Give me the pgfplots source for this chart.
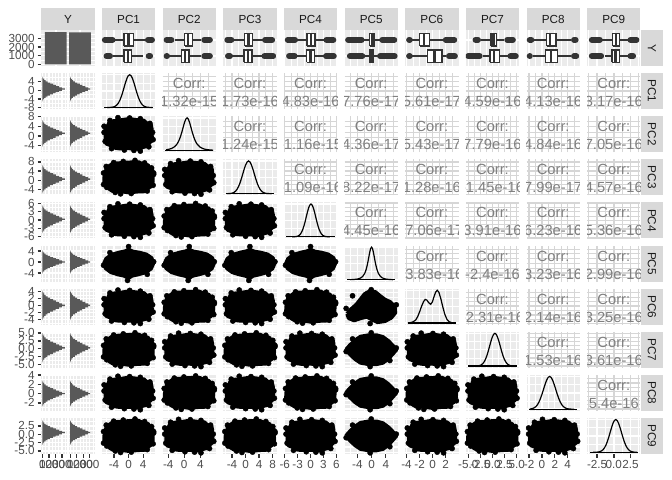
\documentclass[border=0pt]{standalone}
\usepackage{pgfplots}
\pgfplotsset{compat=1.18}
\usepackage{pgfplotstable}
\usepackage{fontspec}
\setmainfont{Liberation Sans}

\definecolor{panelbg}{HTML}{EBEBEB}
\definecolor{stripbg}{HTML}{D9D9D9}
\definecolor{stripc}{HTML}{1A1A1A}
\definecolor{ticklab}{HTML}{4D4D4D}
\definecolor{tickcol}{HTML}{333333}
\definecolor{histc}{HTML}{595959}
\definecolor{corrc}{HTML}{808080}
\definecolor{corgrid}{HTML}{D6D6D6}

\newcommand\tickfont{\fontsize{11.7bp}{13bp}\selectfont}
\newcommand\corfont{\fontsize{14.7bp}{17bp}\selectfont}

% ---------- templates ----------
\pgfplotstableread{
z f
-4.00 0.0003
-3.75 0.0009
-3.50 0.0022
-3.25 0.0051
-3.00 0.0111
-2.75 0.0228
-2.50 0.0439
-2.25 0.0796
-2.00 0.1353
-1.75 0.2163
-1.50 0.3247
-1.25 0.4578
-1.00 0.6065
-0.75 0.7548
-0.50 0.8825
-0.25 0.9692
0.00 1.0000
0.25 0.9692
0.50 0.8825
0.75 0.7548
1.00 0.6065
1.25 0.4578
1.50 0.3247
1.75 0.2163
2.00 0.1353
2.25 0.0796
2.50 0.0439
2.75 0.0228
3.00 0.0111
3.25 0.0051
3.50 0.0022
3.75 0.0009
4.00 0.0003
}\normT
\pgfplotstableread{
z f
-6.00 0.0059
-5.00 0.0115
-4.00 0.0249
-3.50 0.0387
-3.00 0.0625
-2.50 0.1052
-2.00 0.1837
-1.75 0.2449
-1.50 0.3265
-1.25 0.4324
-1.00 0.5625
-0.75 0.7090
-0.50 0.8520
-0.25 0.9597
0.00 1.0000
0.25 0.9597
0.50 0.8520
0.75 0.7090
1.00 0.5625
1.25 0.4324
1.50 0.3265
1.75 0.2449
2.00 0.1837
2.50 0.1052
3.00 0.0625
3.50 0.0387
4.00 0.0249
5.00 0.0115
6.00 0.0059
}\tT
\pgfplotstableread{
z f
-3.80 0.000
-3.40 0.010
-3.00 0.035
-2.60 0.090
-2.30 0.190
-2.00 0.340
-1.70 0.510
-1.40 0.650
-1.15 0.720
-0.90 0.700
-0.60 0.620
-0.30 0.570
-0.05 0.640
0.20 0.800
0.45 0.940
0.70 1.000
0.95 0.940
1.25 0.740
1.55 0.490
1.85 0.270
2.15 0.120
2.50 0.040
2.90 0.010
3.55 0.000
}\sixT
\pgfplotstableread{
z n
-4.0 5
-3.6 12
-3.2 26
-2.8 48
-2.4 78
-2.0 115
-1.6 160
-1.2 205
-0.8 252
-0.4 300
0.0 345
0.4 305
0.8 256
1.2 208
1.6 163
2.0 118
2.4 80
2.8 50
3.2 27
3.6 13
4.0 5
}\histA
\pgfplotstableread{
z n
-4.0 4
-3.6 10
-3.2 22
-2.8 42
-2.4 70
-2.0 104
-1.6 144
-1.2 184
-0.8 228
-0.4 270
0.0 308
0.4 274
0.8 232
1.2 188
1.6 148
2.0 106
2.4 72
2.8 44
3.2 24
3.6 11
4.0 4
}\histB
\pgfplotstableread{
u v
0.950 0.500
0.953 0.671
0.896 0.751
0.864 0.832
0.772 0.857
0.690 0.917
0.500 0.910
0.323 0.889
0.208 0.883
0.150 0.819
0.083 0.763
0.078 0.660
0.045 0.500
0.043 0.327
0.104 0.249
0.143 0.174
0.208 0.117
0.326 0.119
0.500 0.082
0.679 0.107
0.795 0.113
0.847 0.184
0.909 0.242
0.948 0.330
0.950 0.500
}\blobA
\pgfplotstableread{
u v
0.931 0.500
0.930 0.662
0.916 0.762
0.835 0.805
0.786 0.874
0.677 0.887
0.500 0.920
0.327 0.879
0.223 0.863
0.140 0.827
0.116 0.742
0.062 0.666
0.069 0.500
0.070 0.338
0.084 0.238
0.165 0.195
0.217 0.130
0.321 0.109
0.500 0.112
0.686 0.094
0.772 0.144
0.856 0.176
0.884 0.258
0.943 0.333
0.931 0.500
}\blobB
\pgfplotstableread{
u v
0.03 0.50
0.10 0.62
0.20 0.76
0.30 0.86
0.45 0.90
0.60 0.90
0.72 0.85
0.82 0.74
0.90 0.62
0.97 0.50
0.90 0.38
0.82 0.25
0.72 0.14
0.60 0.10
0.45 0.10
0.30 0.14
0.20 0.24
0.10 0.38
0.03 0.50
}\blobD
\pgfplotstableread{
u v
0.04 0.50
0.08 0.63
0.18 0.74
0.32 0.80
0.44 0.84
0.50 0.88
0.58 0.83
0.70 0.80
0.83 0.75
0.93 0.65
0.96 0.50
0.92 0.36
0.82 0.26
0.68 0.20
0.56 0.16
0.50 0.10
0.42 0.16
0.30 0.20
0.17 0.26
0.07 0.37
0.04 0.50
}\blobV
\pgfplotstableread{
u v
0.05 0.30
0.12 0.42
0.22 0.55
0.30 0.70
0.38 0.85
0.48 0.93
0.58 0.90
0.66 0.80
0.75 0.70
0.86 0.62
0.94 0.50
0.95 0.33
0.88 0.20
0.76 0.10
0.62 0.07
0.52 0.14
0.42 0.22
0.30 0.18
0.18 0.12
0.08 0.18
0.05 0.30
}\blobS
\pgfplotstableread{
u v
0.03 0.30
0.97 0.62
0.62 0.97
0.35 0.04
0.97 0.58
0.93 0.76
0.80 0.90
0.40 0.94
0.22 0.91
0.08 0.80
0.03 0.62
0.09 0.22
0.25 0.08
0.55 0.05
0.85 0.12
0.96 0.28
}\outA
\pgfplotstableread{
u v
0.04 0.72
0.96 0.35
0.30 0.96
0.72 0.03
0.95 0.55
0.90 0.80
0.72 0.93
0.52 0.95
0.15 0.88
0.04 0.55
0.06 0.30
0.18 0.10
0.42 0.06
0.60 0.05
0.88 0.15
}\outB
\pgfplotstableread{
u v
0.03 0.45
0.97 0.55
0.50 0.97
0.48 0.03
0.15 0.80
0.85 0.20
}\outC

% ---------- per-variable definitions ----------
\newcommand\defcol[9]{%
  \expandafter\def\csname cmin#1\endcsname{#2}%
  \expandafter\def\csname cmax#1\endcsname{#3}%
  \expandafter\def\csname ctk#1\endcsname{#4}%
  \expandafter\def\csname cmt#1\endcsname{#5}%
  \expandafter\def\csname clab#1\endcsname{#6}%
  \expandafter\def\csname dmu#1\endcsname{#7}%
  \expandafter\def\csname dsd#1\endcsname{#8}%
  \expandafter\def\csname dtn#1\endcsname{#9}}
\newcommand\defrow[8]{%
  \expandafter\def\csname rmin#1\endcsname{#2}%
  \expandafter\def\csname rmax#1\endcsname{#3}%
  \expandafter\def\csname rtk#1\endcsname{#4}%
  \expandafter\def\csname rmt#1\endcsname{#5}%
  \expandafter\def\csname rlab#1\endcsname{#6}%
  \expandafter\def\csname hmu#1\endcsname{#7}%
  \expandafter\def\csname hsd#1\endcsname{#8}}
\newcommand\defbox[2]{\expandafter\def\csname bxs#1\endcsname{#2}}
\newcommand\defcv[3]{\expandafter\def\csname cv#1x#2\endcsname{#3}}

\defcol{1}{-7.3}{7.3}{-4,0,4}{-6,-2,2,6}{-4,0,4}{0.3}{1.55}{normT}
\defcol{2}{-5.4}{7.9}{-4,0,4}{-2,2,6}{-4,0,4}{0.7}{1.3}{tT}
\defcol{3}{-6.6}{9.2}{-4,0,4,8}{-6,-2,2,6}{-4,0,4,8}{0.9}{1.7}{normT}
\defcol{4}{-6.2}{6.2}{-6,-3,0,3,6}{-4.5,-1.5,1.5,4.5}{-6,-3,0,3,6}{0.1}{1.1}{normT}
\defcol{5}{-7.6}{7.4}{-4,0,4}{-6,-2,2,6}{-4,0,4}{0}{1.0}{tT}
\defcol{6}{-4.2}{3.95}{-4,-2,0,2}{-3,-1,1,3}{-4,-2,0,2}{0}{1}{sixT}
\defcol{7}{-5.5}{5.5}{-5,-2.5,0,2.5,5}{-3.75,-1.25,1.25,3.75}{-5.0,-2.5,0.0,2.5,5.0}{0.5}{1.1}{normT}
\defcol{8}{-2.4}{5.9}{-2,0,2,4}{-1,1,3,5}{-2,0,2,4}{1.2}{0.95}{normT}
\defcol{9}{-4}{4}{-2.5,0,2.5}{-3.75,-1.25,1.25,3.75}{-2.5,0.0,2.5}{0.3}{0.85}{normT}

\defrow{1}{-8.6}{7.9}{-8,-4,0,4}{-6,-2,2,6}{-8,-4,0,4}{0.6}{1.35}
\defrow{2}{-6.7}{8.2}{-4,0,4,8}{-6,-2,2,6}{-4,0,4,8}{1.1}{1.3}
\defrow{3}{-6.5}{9.1}{-4,0,4,8}{-6,-2,2,6}{-4,0,4,8}{0.5}{1.46}
\defrow{4}{-6.6}{6.3}{-6,-3,0,3,6}{-4.5,-1.5,1.5,4.5}{-6,-3,0,3,6}{0.25}{1.19}
\defrow{5}{-7.1}{6.0}{-4,0,4}{-6,-2,2}{-4,0,4}{0}{1.0}
\defrow{6}{-5.5}{4.8}{-4,-2,0,2,4}{-5,-3,-1,1,3}{-4,-2,0,2,4}{0}{1.0}
\defrow{7}{-6.0}{5.4}{-5,-2.5,0,2.5,5}{-3.75,-1.25,1.25,3.75}{-5.0,-2.5,0.0,2.5,5.0}{0.3}{1.1}
\defrow{8}{-3.7}{4.05}{-2,0,2,4}{-3,-1,1,3}{-2,0,2,4}{0}{0.66}
\defrow{9}{-5.9}{4.9}{-5,-2.5,0,2.5}{-3.75,-1.25,1.25,3.75}{-5.0,-2.5,0.0,2.5}{0.5}{0.88}

% boxplot pieces: \bx{pos}{lo}{hi}{lw}{q1}{med}{q3}{uw}, \ol{pos}{a}{b}
\newcommand\bx[8]{%
  \addplot[tickcol,line width=1.4bp] coordinates {(#4,#1) (#5,#1)};
  \addplot[tickcol,line width=1.4bp] coordinates {(#7,#1) (#8,#1)};
  \addplot[draw=tickcol,fill=white,line width=1.4bp] coordinates {(#5,#2) (#7,#2) (#7,#3) (#5,#3) (#5,#2)};
  \addplot[tickcol,line width=2.4bp] coordinates {(#6,#2) (#6,#3)};}
\newcommand\ol[3]{\addplot[tickcol,line width=6bp,line cap=round] coordinates {(#2,#1) (#3,#1)};}

\defbox{1}{\ol{2}{-6.5}{-4.4}\bx{2}{1.625}{2.375}{-3.75}{-1.29}{0}{1.26}{4.9}\ol{2}{5.3}{6.4}%
  \ol{1}{-6.05}{-5.1}\bx{1}{0.625}{1.375}{-4.2}{-1.29}{-0.1}{0.82}{4.0}\ol{1}{5.5}{5.9}}
\defbox{2}{\ol{2}{-4.4}{-3.2}\bx{2}{1.625}{2.375}{-2.4}{0.08}{1.0}{2.0}{4.25}\ol{2}{5.0}{6.4}%
  \ol{1}{-4.4}{-4.3}\bx{1}{0.625}{1.375}{-3.7}{-0.75}{0.15}{1.15}{4.25}\ol{1}{5.0}{6.4}}
\defbox{3}{\ol{2}{-5.4}{-4.2}\bx{2}{1.625}{2.375}{-3.6}{-0.3}{0.9}{2.1}{5.2}\ol{2}{5.8}{7.9}%
  \ol{1}{-5.2}{-4.6}\bx{1}{0.625}{1.375}{-3.9}{-0.5}{0.7}{1.9}{5.0}\ol{1}{5.6}{8.2}}
\defbox{4}{\ol{2}{-5.3}{-3.6}\bx{2}{1.625}{2.375}{-3.0}{-0.8}{0.1}{1.0}{3.2}\ol{2}{3.7}{5.3}%
  \ol{1}{-5.0}{-3.7}\bx{1}{0.625}{1.375}{-3.2}{-0.9}{0.0}{0.9}{3.1}\ol{1}{3.6}{5.4}}
\defbox{5}{\ol{2}{-6.6}{-2.8}\bx{2}{1.625}{2.375}{-2.3}{-0.5}{0.1}{0.7}{2.5}\ol{2}{3.0}{6.4}%
  \ol{1}{-6.1}{-2.6}\bx{1}{0.625}{1.375}{-2.0}{-0.6}{-0.1}{0.4}{1.9}\ol{1}{2.4}{6.5}}
\defbox{6}{\ol{2}{-3.6}{-3.5}\bx{2}{1.625}{2.375}{-3.3}{-2.0}{-1.3}{-0.5}{1.6}\ol{2}{2.0}{3.3}%
  \ol{1}{-3.6}{-3.5}\bx{1}{0.625}{1.375}{-3.2}{-0.8}{0.3}{1.4}{2.1}\ol{1}{2.5}{3.4}}
\defbox{7}{\ol{2}{-3.5}{-3.0}\bx{2}{1.625}{2.375}{-2.37}{-0.31}{0.23}{0.85}{2.43}\ol{2}{3.05}{4.2}%
  \ol{1}{-5.0}{-2.65}\bx{1}{0.625}{1.375}{-2.0}{-0.52}{0.37}{1.4}{3.1}\ol{1}{3.7}{4.8}}
\defbox{8}{\ol{2}{-1.9}{-1.65}\bx{2}{1.625}{2.375}{-1.2}{0.73}{1.3}{2.2}{4.5}\ol{2}{5.0}{5.25}%
  \ol{1}{-1.9}{-1.88}\bx{1}{0.625}{1.375}{-1.45}{0.53}{1.4}{2.45}{4.5}\ol{1}{5.0}{5.35}}
\defbox{9}{\ol{2}{-3.3}{-2.1}\bx{2}{1.625}{2.375}{-1.7}{-0.18}{0.33}{0.83}{2.07}\ol{2}{2.5}{3.4}%
  \ol{1}{-3.3}{-1.9}\bx{1}{0.625}{1.375}{-1.38}{-0.27}{0.23}{0.83}{2.07}\ol{1}{2.5}{2.9}}

\defcv{1}{2}{1.32e-15}\defcv{1}{3}{1.73e-16}\defcv{1}{4}{4.83e-16}\defcv{1}{5}{7.76e-17}
\defcv{1}{6}{5.61e-17}\defcv{1}{7}{4.59e-16}\defcv{1}{8}{4.13e-16}\defcv{1}{9}{3.17e-16}
\defcv{2}{3}{1.24e-15}\defcv{2}{4}{-1.16e-15}\defcv{2}{5}{4.36e-17}\defcv{2}{6}{5.43e-17}
\defcv{2}{7}{7.79e-16}\defcv{2}{8}{4.84e-16}\defcv{2}{9}{7.05e-16}
\defcv{3}{4}{-1.09e-16}\defcv{3}{5}{8.22e-17}\defcv{3}{6}{1.28e-16}\defcv{3}{7}{-1.45e-16}
\defcv{3}{8}{7.99e-17}\defcv{3}{9}{4.57e-16}
\defcv{4}{5}{4.45e-16}\defcv{4}{6}{-7.06e-17}\defcv{4}{7}{3.91e-16}\defcv{4}{8}{6.23e-16}\defcv{4}{9}{5.36e-16}
\defcv{5}{6}{-3.83e-16}\defcv{5}{7}{-2.4e-16}\defcv{5}{8}{3.23e-16}\defcv{5}{9}{2.99e-16}
\defcv{6}{7}{-2.31e-16}\defcv{6}{8}{2.14e-16}\defcv{6}{9}{3.25e-16}
\defcv{7}{8}{1.53e-16}\defcv{7}{9}{3.61e-16}
\defcv{8}{9}{5.4e-16}

% ---------- setters ----------
\newcommand\setcol[1]{%
  \edef\xa{\csname cmin#1\endcsname}\edef\xb{\csname cmax#1\endcsname}%
  \edef\xt{\csname ctk#1\endcsname}\edef\xm{\csname cmt#1\endcsname}%
  \edef\xl{\csname clab#1\endcsname}}
\newcommand\setinrow[1]{%
  \edef\ya{\csname cmin#1\endcsname}\edef\yb{\csname cmax#1\endcsname}%
  \edef\yt{\csname ctk#1\endcsname}\edef\ym{\csname cmt#1\endcsname}%
  \def\yl{}}
\newcommand\setleftrow[1]{%
  \edef\ya{\csname rmin#1\endcsname}\edef\yb{\csname rmax#1\endcsname}%
  \edef\yt{\csname rtk#1\endcsname}\edef\ym{\csname rmt#1\endcsname}%
  \edef\yl{\csname rlab#1\endcsname}%
  \edef\hmu{\csname hmu#1\endcsname}\edef\hsd{\csname hsd#1\endcsname}}
\newif\ifbot \newif\ifleft
\newcommand\buildcur{%
  \ifbot\edef\xlk{xticklabels={\xl},xtick style={draw=tickcol,line width=1.4bp},}\else\def\xlk{}\fi
  \ifleft\edef\ylk{yticklabels={\yl},ytick style={draw=tickcol,line width=1.4bp},}\else\def\ylk{}\fi
  \pgfkeys{/pgfplots/cur/.style/.expanded={xmin=\xa,xmax=\xb,ymin=\ya,ymax=\yb,
     xtick={\xt},minor xtick={\xm},ytick={\yt},minor ytick={\ym},\xlk\ylk}}}
\newcommand\callwith[2]{\edef\tmp{\noexpand#1{\expandafter\noexpand\csname#2\endcsname}}\tmp}

\pgfplotsset{
  pan/.style={
    scale only axis, width=53.3bp, height=36bp, anchor=north west,
    axis line style={draw=none},
    tick align=outside, major tick length=3.67bp, minor tick length=0pt,
    xtick style={draw=none}, ytick style={draw=none},
    xticklabels={}, yticklabels={},
    grid=both,
    major grid style={white, line width=1.4bp},
    minor grid style={white, line width=0.7bp},
    axis background/.style={fill=panelbg},
    ticklabel style={font=\tickfont, text=ticklab},
    xtick pos=bottom, ytick pos=left,
    xticklabel style={inner sep=0pt, yshift=-2.9bp},
    yticklabel style={inner sep=0pt, xshift=-2.9bp},
    scaled ticks=false,
  },
  corp/.style={axis background/.style={fill=white},
    major grid style={corgrid}, minor grid style={corgrid}},
}

% ---------- panel kinds ----------
\newcommand\barpanel{%
  \def\xa{0.4}\def\xb{2.6}\def\xt{1,2}\def\xm{}\def\xl{}%
  \def\ya{-190}\def\yb{3990}\def\yt{0,1000,2000,3000}\def\ym{500,1500,2500,3500}\def\yl{0,1000,2000,3000}%
  \buildcur
  \begin{axis}[pan,cur,at={(\px bp,\py bp)}]
    \addplot[ybar,bar shift=0pt,bar width=0.9,fill=histc,draw=none] coordinates {(1,3750) (2,3700)};
  \end{axis}}
\newcommand\boxpanel{%
  \setcol{\ci}\def\ya{0.4}\def\yb{2.6}\def\yt{1,2}\def\ym{}\def\yl{}%
  \buildcur
  \begin{axis}[pan,cur,at={(\px bp,\py bp)}]
    \csname bxs\ci\endcsname
  \end{axis}}
\newcommand\histplot[1]{\addplot[xbar,bar shift=0pt,bar width=\bw,fill=histc,draw=none]
   table[x=n,y expr=\hmu+\hsd*\thisrow{z}]{#1};}
\newcommand\histpanel{%
  \setleftrow{\ri}\pgfmathsetmacro\bw{0.4*\hsd}%
  \def\xa{-17}\def\xb{375}\def\xt{0,100,200,300}\def\xm{50,150,250,350}\def\xl{0,100,200,300}%
  \lefttrue\buildcur
  \begin{axis}[pan,cur,width=25.5bp,at={(\px bp,\py bp)}]
    \histplot{\histA}
  \end{axis}
  \leftfalse\buildcur
  \pgfmathsetmacro\pxb{\px+27.8}%
  \begin{axis}[pan,cur,width=25.5bp,at={(\pxb bp,\py bp)}]
    \histplot{\histB}
  \end{axis}}
\newcommand\dplot[1]{%
  \addplot[black,line width=1.2bp,restrict x to domain=\dmin:\dmax] table[x expr=\dmu+\dsd*\thisrow{z},y=f]{#1};}
\newcommand\denspanel{%
  \setcol{\ci}%
  \def\ya{-0.05}\def\yb{1.05}\def\yt{0,0.5,1}\def\ym{0.25,0.75}\def\yl{}%
  \buildcur
  \edef\dmu{\csname dmu\ci\endcsname}\edef\dsd{\csname dsd\ci\endcsname}%
  \pgfmathsetmacro\dmin{\xa+0.0476*(\xb-(\xa))}%
  \pgfmathsetmacro\dmax{\xb-0.0476*(\xb-(\xa))}%
  \begin{axis}[pan,cur,at={(\px bp,\py bp)}]
    \callwith\dplot{\csname dtn\ci\endcsname}
    \addplot[black,line width=1.2bp] coordinates {(\dmin,0) (\dmax,0)};
  \end{axis}}
\newcommand\blobplot[1]{\addplot[fill=black,draw=black,line width=4bp,line join=round]
   table[x expr=\xa+\xw*\thisrow{u},y expr=\ya+\yw*\thisrow{v}]{#1};}
\newcommand\outplot[1]{\addplot[only marks,mark=*,mark size=2.6bp,black]
   table[x expr=\xa+\xw*\thisrow{u},y expr=\ya+\yw*\thisrow{v}]{#1};}
\newcommand\scatpanel{%
  \setcol{\ci}\setinrow{\ri}\buildcur
  \pgfmathsetmacro\xw{\xb-(\xa)}\pgfmathsetmacro\yw{\yb-(\ya)}%
  \ifodd\numexpr\ri+\ci\relax \def\bn{blobB}\def\on{outB}\else\def\bn{blobA}\def\on{outA}\fi
  \ifnum\ri=5 \def\bn{blobV}\def\on{outC}\fi
  \ifnum\ci=5 \def\bn{blobD}\def\on{outC}\fi
  \ifnum\ri=6 \ifnum\ci=5 \def\bn{blobS}\fi\fi
  \begin{axis}[pan,cur,at={(\px bp,\py bp)}]
    \callwith\blobplot{\bn}
    \callwith\outplot{\on}
  \end{axis}}
\newcommand\corpanel{%
  \setcol{\ci}\setinrow{\ri}\buildcur
  \edef\cvtext{\csname cv\ri x\ci\endcsname}%
  \begin{axis}[pan,cur,corp,at={(\px bp,\py bp)}]
    \begin{scope}
      \clip (rel axis cs:0,0) rectangle (rel axis cs:1,1);
      \node[text=corrc,font=\corfont,inner sep=0pt] at (rel axis cs:0.5,0.71) {Corr:};
      \node[text=corrc,font=\corfont,inner sep=0pt] at (rel axis cs:0.5,0.21) {\cvtext};
    \end{scope}
  \end{axis}}

\begin{document}
\begin{tikzpicture}
\path[use as bounding box] (0,0) rectangle (672bp,-480bp);
\foreach \ri in {0,...,9}{%
  \foreach \ci in {0,...,9}{%
    \pgfmathsetmacro\px{41.3+60.65*\ci}%
    \pgfmathsetmacro\py{-30-43.1*\ri}%
    \ifnum\ri=9 \bottrue\else\botfalse\fi
    \ifnum\ci=0 \lefttrue\else\leftfalse\fi
    \ifnum\ri=0
      \ifnum\ci=0 \barpanel\else\boxpanel\fi
    \else
      \ifnum\ci=0 \histpanel
      \else
        \ifnum\ri=\ci\relax \denspanel
        \else\ifnum\ri>\ci\relax \scatpanel\else\corpanel\fi\fi
      \fi
    \fi
  }%
}
\foreach \nm [count=\i from 0] in {Y,PC1,PC2,PC3,PC4,PC5,PC6,PC7,PC8,PC9}{%
  \pgfmathsetmacro\sx{41.3+60.65*\i}%
  \pgfmathsetmacro\sy{-30-43.1*\i}%
  \fill[stripbg] (\sx bp,-8.3bp) rectangle ++(53.3bp,-21.7bp);
  \node[font=\tickfont,text=stripc,inner sep=0pt] at (\sx bp+26.65bp,-19.3bp) {\nm};
  \fill[stripbg] (641.2bp,\sy bp) rectangle ++(21.5bp,-36bp);
  \node[font=\tickfont,text=stripc,rotate=-90,inner sep=0pt] at (651.95bp,\sy bp-18bp) {\nm};
}
\end{tikzpicture}
\end{document}
